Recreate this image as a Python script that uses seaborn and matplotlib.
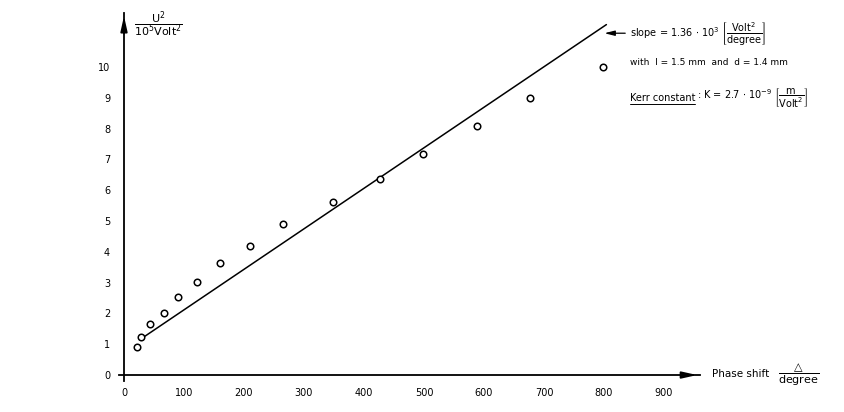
import matplotlib
matplotlib.use('Agg')
import matplotlib.pyplot as plt
import seaborn as sns
import pandas as pd

# measured points (phase shift in degree, U^2 in 10^5 Volt^2)
phase_shift = [21, 28, 43, 67, 90, 122, 160, 210, 265, 348, 427, 499, 588, 677, 798]
u_squared = [0.92, 1.22, 1.65, 2.02, 2.52, 3.02, 3.63, 4.2, 4.89, 5.61, 6.37, 7.17, 8.08, 9.0, 10.0]

# straight line fit, drawn between its end points
fit_x = [28, 804]
fit_y = [1.17, 11.38]

x_ticks = list(range(0, 1000, 100))
y_ticks = list(range(0, 11))

df = pd.DataFrame({'phase': phase_shift, 'u2': u_squared})
fit = pd.DataFrame({'phase': fit_x, 'u2': fit_y})

sns.set_style('white')
plt.rcParams['font.family'] = ['DejaVu Sans']
plt.rcParams['mathtext.fontset'] = 'dejavusans'
plt.rcParams['text.color'] = 'black'
plt.rcParams['xtick.color'] = 'black'
plt.rcParams['ytick.color'] = 'black'

fig = plt.figure(figsize=(8.45, 4.12), dpi=100)
ax = fig.add_axes([119.2 / 845, 30.8 / 412, 580.8 / 845, 368 / 412])

sns.lineplot(data=fit, x='phase', y='u2', color='black', lw=1.1, ax=ax)
sns.scatterplot(data=df, x='phase', y='u2', marker='o', s=22, facecolor='white',
                edgecolor='black', linewidth=1.1, ax=ax, zorder=3)

ax.set_xlim(-8, 960)
ax.set_ylim(-0.2, 11.75)
ax.spines['left'].set_position(('data', 0))
ax.spines['bottom'].set_position(('data', 0))
ax.spines['right'].set_visible(False)
ax.spines['top'].set_visible(False)
for s in ['left', 'bottom']:
    ax.spines[s].set_linewidth(1.3)
    ax.spines[s].set_color('black')
ax.set_xticks(x_ticks)
ax.set_yticks(y_ticks)
ax.tick_params(axis='x', direction='inout', length=7, width=1.1, labelsize=7, pad=6)
ax.tick_params(axis='y', direction='out', length=5, width=1.1, labelsize=7, pad=5)
ax.set_xlabel('')
ax.set_ylabel('')

# axis arrows
ax.annotate('', xy=(960, 0), xytext=(925, 0),
            arrowprops=dict(arrowstyle='-|>,head_length=0.9,head_width=0.2', color='black', lw=1.3),
            annotation_clip=False)
ax.annotate('', xy=(0, 11.75), xytext=(0, 11.0),
            arrowprops=dict(arrowstyle='-|>,head_length=0.9,head_width=0.2', color='black', lw=1.3),
            annotation_clip=False)

# axis labels
ax.text(57, 11.4, r'$\dfrac{\mathrm{U}^2}{10^5\mathrm{Volt}^2}$', fontsize=8, ha='center', va='center')
ax.text(980, 0.05, 'Phase shift', fontsize=7.5, ha='left', va='center')
ax.text(1125, 0.0, r'$\dfrac{\triangle}{\mathrm{degree}}$', fontsize=8, ha='center', va='center')

# slope pointer and notes
ax.annotate('', xy=(796, 11.1), xytext=(840, 11.1),
            arrowprops=dict(arrowstyle='-|>,head_length=0.6,head_width=0.15', color='black', lw=0.9),
            annotation_clip=False)
ax.text(843, 11.1, r'slope = 1.36 $\cdot$ 10$^3$ $\left[\dfrac{\mathrm{Volt}^2}{\mathrm{degree}}\right]$',
        fontsize=7, ha='left', va='center')
ax.text(843, 10.15, 'with  l = 1.5 mm  and  d = 1.4 mm', fontsize=6.5, ha='left', va='center')
kerr = ax.text(843, 9.0, 'Kerr constant', fontsize=7, ha='left', va='center')
fig.canvas.draw()
bb = kerr.get_window_extent()
inv = ax.transData.inverted()
x1, y1 = inv.transform((bb.x1, bb.y0))
x0, _ = inv.transform((bb.x0, bb.y0))
ax.plot([x0, x1], [y1 - 0.05, y1 - 0.05], color='black', lw=0.7, clip_on=False)
ax.text(x1 + 3, 9.0, r': K = 2.7 $\cdot$ 10$^{-9}$ $\left[\dfrac{\mathrm{m}}{\mathrm{Volt}^2}\right]$',
        fontsize=7, ha='left', va='center')

fig.savefig('out.png', dpi=100)
